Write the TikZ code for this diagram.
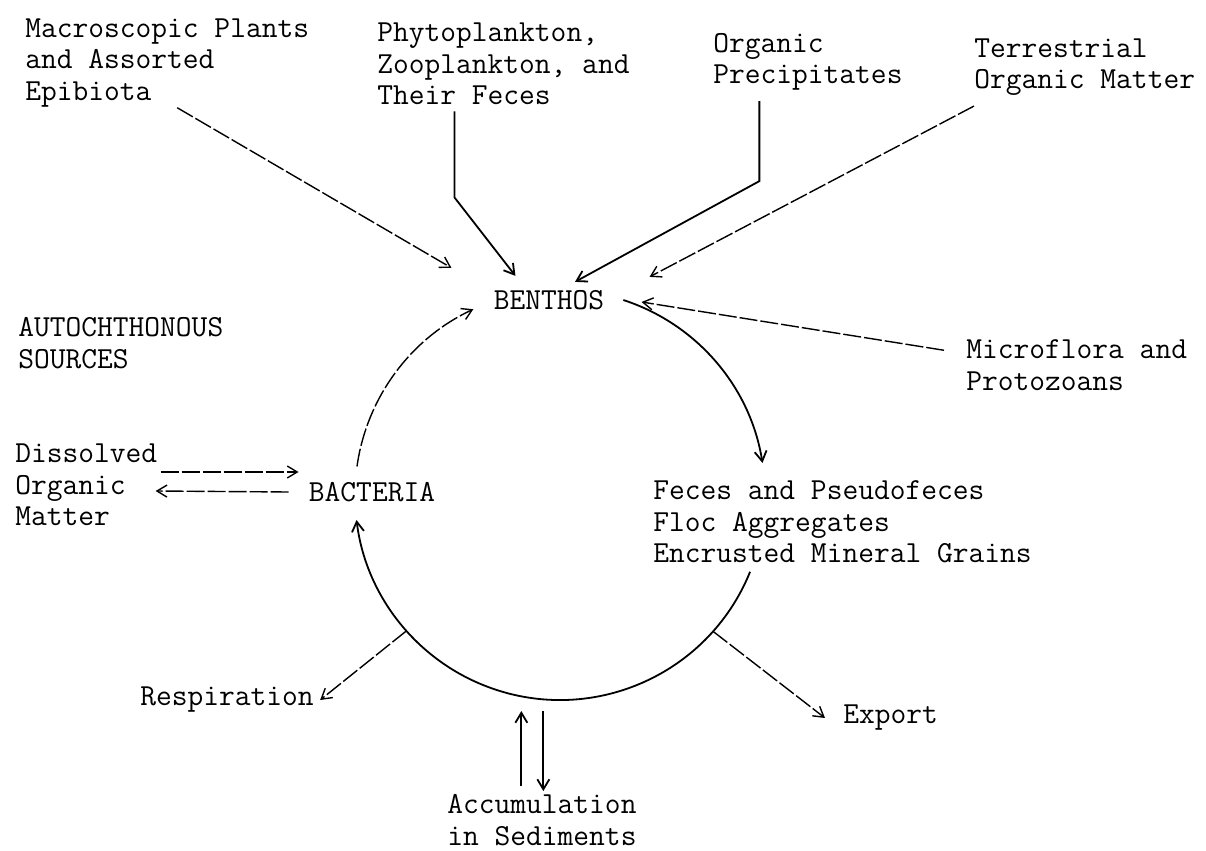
\documentclass[tikz,border=0pt]{standalone}
\usepackage{fontspec}
\usetikzlibrary{arrows.meta,positioning,calc}

\tikzset{
  lbl/.style={font=\ttfamily\fontsize{15.3}{15.8}\selectfont,align=left,inner sep=0pt,anchor=west},
  flow/.style={line width=0.9pt,-{Straight Barb[length=5pt,width=6pt]}},
  faint/.style={flow,line width=0.7pt,dash pattern=on 9pt off 1.5pt},
}

\begin{document}
\begin{tikzpicture}[x=0.5pt,y=0.5pt]
  \useasboundingbox (0,0) rectangle (1206,-851);
  \node[lbl] (macro) at (25,-63) {Macroscopic Plants\\and Assorted\\Epibiota};
  \node[lbl] (phyto) at (377,-64) {Phytoplankton,\\Zooplankton, and\\Their Feces};
  \node[lbl] (precip) at (713,-62) {Organic\\Precipitates};
  \node[lbl] (terr) at (974,-67) {Terrestrial\\Organic Matter};
  \node[lbl,anchor=center] (benthos) at (549,-300) {BENTHOS};
  \node[lbl] (autoch) at (18,-343) {AUTOCHTHONOUS\\SOURCES};
  \node[lbl] (micro) at (966,-365) {Microflora and\\Protozoans};
  \node[lbl] (dom) at (15,-485) {Dissolved\\Organic\\Matter};
  \node[lbl,anchor=center] (bact) at (372,-492) {BACTERIA};
  \node[lbl] (feces) at (653,-522) {Feces and Pseudofeces\\Floc Aggregates\\Encrusted Mineral Grains};
  \node[lbl] (resp) at (140,-700) {Respiration};
  \node[lbl] (export) at (843,-718) {Export};
  \node[lbl] (accum) at (447,-820) {Accumulation\\in Sediments};

  \draw[faint] ([xshift=5pt]macro.south) -- ([shift={(-21pt,11pt)}]benthos.north west);
  \draw[flow] ([shift={(-24.5pt,-3pt)}]phyto.south) -- ++(0,-43pt) -- ([shift={(11pt,7pt)}]benthos.north west);
  \draw[flow] ([shift={(-24.3pt,-5pt)}]precip.south) -- ++(0,-40pt) -- ([shift={(13pt,4pt)}]benthos.north);
  \draw[faint] ([yshift=-5pt]terr.south west) -- ([shift={(22.5pt,6.5pt)}]benthos.north east);
  \draw[faint] ([shift={(-11pt,-5.5pt)}]micro.north west) -- ([shift={(18.5pt,-1pt)}]benthos.east);

  \coordinate (c) at (560,-495);
  \coordinate (bl) at ($(c)+(172:102.5pt)$);
  \coordinate (br) at ($(c)+(72:102.5pt)$);
  \coordinate (fr) at ($(c)+(-22:102.5pt)$);
  \coordinate (rj) at ($(c)+(-138.5:102.5pt)$);
  \coordinate (ej) at ($(c)+(-41.7:102.5pt)$);
  \draw[faint] (bl) arc[start angle=172,end angle=115,radius=102.5pt];
  \draw[flow] (br) arc[start angle=72,end angle=9,radius=102.5pt];
  \draw[flow] (fr) arc[start angle=-22,end angle=-173,radius=102.5pt];

  \draw[faint] ([shift={(1.5pt,6.5pt)}]dom.east) -- ([shift={(-5pt,10pt)}]bact.west);
  \draw[faint] ([shift={(-10pt,0pt)}]bact.west) -- ([shift={(-1pt,-3pt)}]dom.east);

  \draw[faint] (rj) -- ([xshift=3pt]resp.east);
  \draw[faint] (ej) -- ([xshift=-9pt]export.west);
  \draw[flow] ([shift={(-10.3pt,4pt)}]accum.north) -- ++(0,37.5pt);
  \draw[flow] ([shift={(0.7pt,41.5pt)}]accum.north) -- ++(0,-40pt);
\end{tikzpicture}
\end{document}
